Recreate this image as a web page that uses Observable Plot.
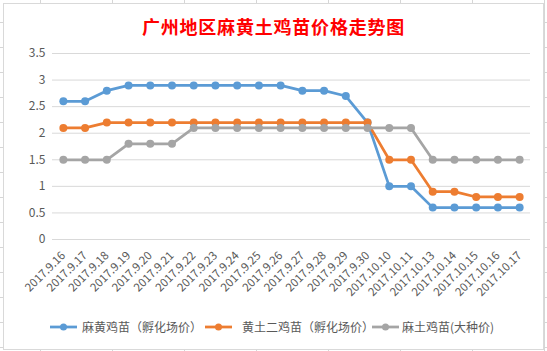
<!DOCTYPE html>
<html><head><meta charset="utf-8">
<script src="https://cdn.jsdelivr.net/npm/d3@7"></script>
<script src="https://cdn.jsdelivr.net/npm/@observablehq/plot@0.6"></script>
<style>
body{margin:0;width:547px;height:351px;position:relative;overflow:hidden;background:#fff;
 background-image:linear-gradient(to right,#d6d6d6 1px,transparent 1px),linear-gradient(to bottom,#d6d6d6 1px,transparent 1px);
 background-size:72px 100%,100% 25px;background-position:40px 0,0 22px;
 font-family:"Noto Sans CJK SC","Noto Sans",sans-serif;}
#frame{position:absolute;left:3px;top:3px;width:539px;height:345px;border:1px solid #d9d9d9;background:#fff;}
#title{position:absolute;left:0;top:12px;width:547px;text-align:center;font-size:18px;line-height:28px;font-weight:bold;color:#ff0000;letter-spacing:0.8px;}
#plot{position:absolute;left:0;top:40px;}
.leg{position:absolute;top:319px;height:16px;font-size:12px;line-height:16px;color:#595959;white-space:nowrap;}
.legsw{position:absolute;top:319px;}
</style>
</head><body>
<div id="frame"></div>
<div id="title">广州地区麻黄土鸡苗价格走势图</div>
<div id="plot"></div>
<div id="legend"></div>
<script>
const dates = ["2017.9.16","2017.9.17","2017.9.18","2017.9.19","2017.9.20","2017.9.21","2017.9.22","2017.9.23","2017.9.24","2017.9.25","2017.9.26","2017.9.27","2017.9.28","2017.9.29","2017.9.30","2017.10.10","2017.10.11","2017.10.13","2017.10.14","2017.10.15","2017.10.16","2017.10.17"];
const seriesNames = ["麻黄鸡苗（孵化场价）","黄土二鸡苗（孵化场价）","麻土鸡苗(大种价)"];
const mahuang = [2.6,2.6,2.8,2.9,2.9,2.9,2.9,2.9,2.9,2.9,2.9,2.8,2.8,2.7,2.2,1.0,1.0,0.6,0.6,0.6,0.6,0.6];
const huangtu = [2.1,2.1,2.2,2.2,2.2,2.2,2.2,2.2,2.2,2.2,2.2,2.2,2.2,2.2,2.2,1.5,1.5,0.9,0.9,0.8,0.8,0.8];
const matu = [1.5,1.5,1.5,1.8,1.8,1.8,2.1,2.1,2.1,2.1,2.1,2.1,2.1,2.1,2.1,2.1,2.1,1.5,1.5,1.5,1.5,1.5];
const yTicks = [0,0.5,1,1.5,2,2.5,3,3.5];
const colors = ["#5b9bd5","#ed7d31","#a5a5a5"];

const valuesList = [mahuang, huangtu, matu];
const data = [];
valuesList.forEach((vals, si) => vals.forEach((v, i) => data.push({date: dates[i], value: v, series: seriesNames[si]})));

const marks = [
  Plot.gridY(yTicks, {stroke: "#d9d9d9", strokeOpacity: 1}),
  Plot.axisY(yTicks, {tickSize: 0, tickPadding: 7, fontSize: 12, tickFormat: d => String(d)}),
  Plot.axisX({tickRotate: -45, tickSize: 0, tickPadding: 14, fontSize: 11.5})
];
seriesNames.forEach((name, si) => {
  const sub = data.filter(d => d.series === name);
  marks.push(Plot.line(sub, {x: "date", y: "value", stroke: colors[si], strokeWidth: 2.75}));
  marks.push(Plot.dot(sub, {x: "date", y: "value", fill: colors[si], r: 4}));
});

const chart = Plot.plot({
  width: 547, height: 270,
  marginLeft: 52, marginRight: 17, marginTop: 13, marginBottom: 71,
  style: {color: "#595959", fontFamily: "'Noto Sans CJK SC','Noto Sans',sans-serif", background: "transparent"},
  x: {type: "point", domain: dates, padding: 0.5, round: false, label: null},
  y: {domain: [0, 3.5], label: null},
  marks
});
document.getElementById("plot").appendChild(chart);

// legend
const legX = [[50, 82], [205, 242], [372, 402]];
const legend = document.getElementById("legend");
seriesNames.forEach((name, si) => {
  const [lx, tx] = legX[si];
  const sw = document.createElementNS("http://www.w3.org/2000/svg", "svg");
  sw.setAttribute("class", "legsw");
  sw.setAttribute("width", 28); sw.setAttribute("height", 16);
  sw.style.left = lx + "px";
  sw.innerHTML = `<line x1="0" y1="8" x2="27" y2="8" stroke="${colors[si]}" stroke-width="2.75"/><circle cx="13.5" cy="8" r="3.5" fill="${colors[si]}"/>`;
  legend.appendChild(sw);
  const t = document.createElement("div");
  t.className = "leg";
  t.style.left = tx + "px";
  t.textContent = name;
  legend.appendChild(t);
});
</script>
</body></html>
